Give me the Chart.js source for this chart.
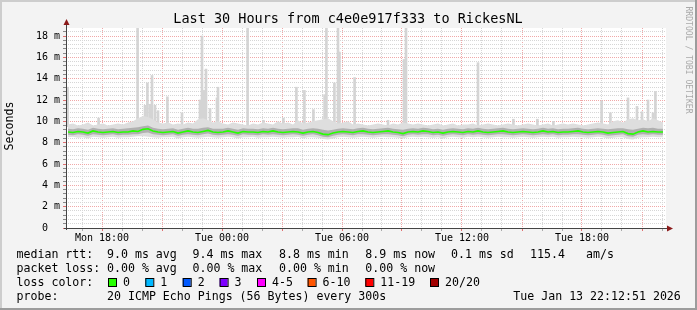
<!DOCTYPE html>
<html>
<head>
<meta charset="utf-8">
<title>Smokeping - RickesNL</title>
<script src="https://cdn.jsdelivr.net/npm/chart.js@4/dist/chart.umd.min.js"></script>
<style>
  html, body { margin: 0; padding: 0; background: #f3f3f3; }
  canvas { display: block; }
</style>
</head>
<body>
<canvas id="pingChart" width="697" height="310"></canvas>
<script>
// Data ---------------------------------------------------------------------->
// time axis: hours counted from Mon 00:00, one sample every 15 minutes
const startHour = 16.3;
const stepHours = 0.25;

// median rtt (ms)
const median = [
  9.0, 8.95, 9.05, 9.0, 8.9, 9.1, 9.0, 8.95, 9.0, 9.05,
  8.95, 9.0, 9.0, 9.1, 9.05, 9.25, 9.3, 9.1, 9.0, 8.95,
  9.0, 9.05, 8.9, 9.0, 9.1, 9.0, 8.95, 9.05, 9.15, 9.0,
  8.95, 9.0, 9.1, 9.0, 8.9, 9.05, 9.0, 9.0, 8.95, 9.05,
  9.0, 9.1, 9.0, 8.95, 9.0, 9.05, 9.0, 8.9, 9.0, 9.05,
  8.95, 8.8, 8.75, 8.9, 9.0, 9.05, 9.0, 8.95, 9.05, 9.1,
  9.0, 8.95, 9.0, 9.05, 9.1, 9.0, 8.95, 8.85, 9.0, 9.05,
  9.0, 9.1, 9.05, 8.95, 9.0, 8.9, 9.0, 9.05, 9.0, 8.95,
  9.05, 9.0, 9.1, 9.0, 8.95, 9.0, 9.05, 9.1, 9.0, 8.95,
  9.0, 9.05, 9.0, 8.95, 9.0, 9.1, 9.0, 9.05, 8.95, 9.0,
  9.0, 9.05, 9.1, 9.0, 8.95, 9.0, 9.05, 9.0, 8.9, 8.95,
  9.0, 9.05, 8.85, 8.8, 9.0, 9.1, 9.0, 9.05, 9.0, 9.0
];

// outer smoke (min / max of the 20 pings)
const smokeLo = [
  8.5, 8.55, 8.45, 8.5, 8.4, 8.55, 8.5, 8.45, 8.5, 8.55,
  8.45, 8.5, 8.5, 8.55, 8.6, 8.6, 8.55, 8.5, 8.45, 8.5,
  8.5, 8.55, 8.4, 8.5, 8.55, 8.5, 8.45, 8.5, 8.55, 8.5,
  8.45, 8.5, 8.55, 8.5, 8.4, 8.5, 8.5, 8.55, 8.45, 8.5,
  8.5, 8.55, 8.5, 8.45, 8.5, 8.5, 8.55, 8.4, 8.5, 8.5,
  8.45, 8.35, 8.3, 8.4, 8.5, 8.55, 8.5, 8.45, 8.5, 8.55,
  8.5, 8.45, 8.5, 8.55, 8.5, 8.5, 8.45, 8.4, 8.5, 8.55,
  8.5, 8.55, 8.5, 8.45, 8.5, 8.4, 8.5, 8.55, 8.5, 8.45,
  8.55, 8.5, 8.55, 8.5, 8.45, 8.5, 8.55, 8.5, 8.5, 8.45,
  8.5, 8.55, 8.5, 8.45, 8.5, 8.55, 8.5, 8.55, 8.45, 8.5,
  8.5, 8.55, 8.5, 8.5, 8.45, 8.5, 8.55, 8.5, 8.4, 8.45,
  8.5, 8.5, 8.35, 8.3, 8.45, 8.5, 8.5, 8.55, 8.5, 8.5
];
const smokeHi = [
  9.7, 9.8, 9.6, 9.7, 9.9, 9.6, 9.7, 9.8, 9.6, 9.7,
  9.8, 9.7, 9.9, 10.0, 10.3, 10.5, 10.4, 10.2, 9.9, 9.8,
  9.9, 9.7, 9.8, 9.7, 9.9, 9.8, 10.2, 10.3, 10.1, 9.9,
  10.0, 9.8, 9.7, 9.9, 9.8, 9.7, 9.6, 9.8, 9.7, 9.9,
  9.8, 9.7, 10.0, 9.8, 9.9, 9.7, 10.1, 9.8, 9.9, 10.0,
  10.1, 10.2, 10.3, 10.0, 9.8, 9.9, 10.0, 9.7, 9.8, 9.7,
  9.6, 9.7, 9.8, 9.7, 9.6, 9.8, 9.7, 9.9, 9.8, 9.7,
  9.8, 9.7, 9.6, 9.7, 9.8, 9.6, 9.7, 9.8, 9.6, 9.7,
  9.7, 9.8, 9.6, 9.7, 9.8, 9.7, 9.6, 9.7, 9.8, 9.7,
  9.6, 9.7, 9.8, 9.7, 9.6, 9.7, 9.8, 9.6, 9.7, 9.8,
  9.7, 9.8, 9.7, 9.6, 9.7, 9.8, 9.9, 9.8, 9.7, 10.0,
  10.1, 9.9, 10.2, 10.3, 10.1, 10.2, 10.0, 10.3, 10.1, 9.9
];

// inner (dense) smoke
const coreLo = [
  8.75, 8.7, 8.8, 8.75, 8.65, 8.8, 8.75, 8.7, 8.75, 8.8,
  8.7, 8.75, 8.75, 8.8, 8.8, 8.9, 8.95, 8.8, 8.75, 8.7,
  8.75, 8.8, 8.65, 8.75, 8.8, 8.75, 8.7, 8.8, 8.85, 8.75,
  8.7, 8.75, 8.8, 8.75, 8.65, 8.8, 8.75, 8.75, 8.7, 8.8,
  8.75, 8.8, 8.75, 8.7, 8.75, 8.8, 8.75, 8.65, 8.75, 8.8,
  8.7, 8.55, 8.5, 8.65, 8.75, 8.8, 8.75, 8.7, 8.8, 8.8,
  8.75, 8.7, 8.75, 8.8, 8.8, 8.75, 8.7, 8.6, 8.75, 8.8,
  8.75, 8.8, 8.8, 8.7, 8.75, 8.65, 8.75, 8.8, 8.75, 8.7,
  8.8, 8.75, 8.8, 8.75, 8.7, 8.75, 8.8, 8.8, 8.75, 8.7,
  8.75, 8.8, 8.75, 8.7, 8.75, 8.8, 8.75, 8.8, 8.7, 8.75,
  8.75, 8.8, 8.8, 8.75, 8.7, 8.75, 8.8, 8.75, 8.65, 8.7,
  8.75, 8.8, 8.6, 8.55, 8.75, 8.8, 8.75, 8.8, 8.75, 8.75
];
const coreHi = [
  9.3, 9.25, 9.35, 9.3, 9.2, 9.4, 9.3, 9.25, 9.3, 9.35,
  9.25, 9.3, 9.35, 9.4, 9.45, 9.55, 9.6, 9.4, 9.3, 9.25,
  9.3, 9.35, 9.2, 9.3, 9.4, 9.3, 9.3, 9.4, 9.45, 9.3,
  9.3, 9.3, 9.4, 9.3, 9.2, 9.35, 9.3, 9.3, 9.25, 9.35,
  9.3, 9.4, 9.3, 9.25, 9.3, 9.35, 9.35, 9.2, 9.3, 9.35,
  9.3, 9.2, 9.15, 9.2, 9.3, 9.35, 9.3, 9.25, 9.35, 9.4,
  9.3, 9.25, 9.3, 9.35, 9.4, 9.3, 9.25, 9.2, 9.3, 9.35,
  9.3, 9.4, 9.35, 9.25, 9.3, 9.2, 9.3, 9.35, 9.3, 9.25,
  9.35, 9.3, 9.4, 9.3, 9.25, 9.3, 9.35, 9.4, 9.3, 9.25,
  9.3, 9.35, 9.3, 9.25, 9.3, 9.4, 9.3, 9.35, 9.25, 9.3,
  9.3, 9.35, 9.4, 9.3, 9.25, 9.3, 9.35, 9.3, 9.25, 9.3,
  9.35, 9.35, 9.25, 9.2, 9.3, 9.4, 9.35, 9.4, 9.3, 9.3
];

// single slow pings sticking out of the smoke
const spikeHours = [16.28, 17.83, 19.78, 20.15, 20.27, 20.4, 20.5, 20.65, 20.8, 21.27,
  22.0, 22.9, 23.0, 23.1, 23.2, 23.4, 23.75, 23.8, 25.28, 26.07, 27.07, 27.72, 28.12,
  28.57, 29.13, 29.22, 29.62, 29.8, 29.87, 30.63, 32.3, 33.1, 33.2, 36.8, 38.57, 39.77,
  40.57, 42.98, 43.42, 44.3, 44.75, 45.0, 45.3, 45.55, 45.67];
const spikeTops = [13.2, 10.3, 18.75, 11.5, 13.6, 11.6, 14.3, 11.5, 11.0, 12.3,
  10.8, 12.0, 18.0, 12.9, 14.9, 11.2, 12.2, 13.2, 18.75, 10.1, 10.3, 13.2, 12.9,
  11.1, 12.5, 18.75, 13.6, 18.75, 16.5, 14.1, 10.1, 15.8, 18.75, 15.5, 10.2, 10.2,
  10.0, 11.9, 10.8, 12.2, 11.4, 10.9, 12.0, 10.8, 12.8];
const spikeBase = 9.5;

// axis labels
const xTickHours = [18, 24, 30, 36, 42];
const xTickLabels = ['Mon 18:00', 'Tue 00:00', 'Tue 06:00', 'Tue 12:00', 'Tue 18:00'];
const yTickValues = [0, 2, 4, 6, 8, 10, 12, 14, 16, 18];
const yTickLabels = ['0  ', '2 m', '4 m', '6 m', '8 m', '10 m', '12 m', '14 m', '16 m', '18 m'];

// legend
const statsRtt = ['9.0 ms avg', '9.4 ms max', '8.8 ms min', '8.9 ms now', '0.1 ms sd', '115.4', 'am/s'];
const statsLoss = ['0.00 % avg', '0.00 % max', '0.00 % min', '0.00 % now'];
const lossLabels = ['0', '1', '2', '3', '4-5', '6-10', '11-19', '20/20'];
const lossColors = ['#26ff00', '#00b8ff', '#0059ff', '#7e00ff', '#ff00ff', '#ff5500', '#ff0000', '#a10000'];
const probeText = '20 ICMP Echo Pings (56 Bytes) every 300s';
const stampText = 'Tue Jan 13 22:12:51 2026';
const titleText = 'Last 30 Hours from c4e0e917f333 to RickesNL';


// Chart ---------------------------------------------------------------------->
const MONO = '"DejaVu Sans Mono", monospace';
const times = median.map((_, i) => startHour + i * stepHours);
const toPoints = arr => arr.map((v, i) => ({ x: times[i], y: v }));

const isMajorY = v => Math.abs(v / 2 - Math.round(v / 2)) < 1e-6;
const isMajorX = v => Math.round(v) % 3 === 0;
const RED_GRID = '#f0a8a8';
const GRAY_GRID = '#d6d6d6';

// background, frame, axes, arrows and all the rrdtool style texts
const smokeDecor = {
    id: 'smokeDecor',
    beforeDraw(chart) {
        const { ctx, width, height, chartArea: a } = chart;
        ctx.save();
        ctx.fillStyle = '#f3f3f3';
        ctx.fillRect(0, 0, width, height);
        ctx.fillStyle = '#ffffff';
        ctx.fillRect(a.left, a.top, a.right - a.left, a.bottom - a.top);
        // 3d frame
        ctx.fillStyle = '#cdcdcd';
        ctx.fillRect(0, 0, width, 2);
        ctx.fillRect(0, 0, 2, height);
        ctx.fillStyle = '#9c9c9c';
        ctx.fillRect(0, height - 2, width, 2);
        ctx.fillRect(width - 2, 0, 2, height);
        ctx.restore();
    },
    afterDraw(chart) {
        const { ctx, chartArea: a } = chart;
        ctx.save();
        // axes
        ctx.strokeStyle = '#444';
        ctx.lineWidth = 1;
        ctx.beginPath();
        ctx.moveTo(a.left + 0.5, a.bottom + 2);
        ctx.lineTo(a.left + 0.5, a.top - 5);
        ctx.moveTo(a.left - 2, a.bottom + 0.5);
        ctx.lineTo(a.right + 2, a.bottom + 0.5);
        ctx.stroke();
        ctx.fillStyle = '#8b1a1a';
        ctx.beginPath();
        ctx.moveTo(a.left + 0.5, a.top - 9);
        ctx.lineTo(a.left - 2.5, a.top - 3);
        ctx.lineTo(a.left + 3.5, a.top - 3);
        ctx.closePath();
        ctx.fill();
        ctx.beginPath();
        ctx.moveTo(a.right + 7, a.bottom + 0.5);
        ctx.lineTo(a.right + 1, a.bottom - 2.5);
        ctx.lineTo(a.right + 1, a.bottom + 3.5);
        ctx.closePath();
        ctx.fill();

        ctx.textBaseline = 'middle';
        ctx.fillStyle = '#000';
        // title
        ctx.font = '13.5px ' + MONO;
        ctx.textAlign = 'center';
        ctx.fillText(titleText, 348, 19);

        // y axis title
        ctx.font = '11.6px ' + MONO;
        ctx.save();
        ctx.translate(10, 126);
        ctx.rotate(-Math.PI / 2);
        ctx.fillText('Seconds', 0, 0);
        ctx.restore();

        // watermark on the right edge
        ctx.save();
        ctx.fillStyle = '#a9a9a9';
        ctx.font = '8.1px ' + MONO;
        ctx.translate(688, 60);
        ctx.rotate(Math.PI / 2);
        ctx.fillText('RRDTOOL / TOBI OETIKER', 0, 0);
        ctx.restore();

        // legend block
        ctx.textAlign = 'left';
        ctx.font = '11.6px ' + MONO;
        const rttX = [107, 192.5, 279, 365.3, 451, 530, 586];
        ctx.fillText('median rtt:', 16.5, 254.5);
        statsRtt.forEach((s, i) => ctx.fillText(s, rttX[i], 254.5));
        ctx.fillText('packet loss:', 16.5, 268.5);
        statsLoss.forEach((s, i) => ctx.fillText(s, rttX[i], 268.5));
        ctx.fillText('loss color:', 16.5, 282.5);
        const boxX = [108, 145.3, 182.7, 219.6, 257, 307.6, 365.3, 430];
        lossLabels.forEach((s, i) => {
            ctx.fillStyle = lossColors[i];
            ctx.fillRect(boxX[i], 278, 8, 8);
            ctx.strokeStyle = '#000';
            ctx.strokeRect(boxX[i] + 0.5, 278.5, 8, 8);
            ctx.fillStyle = '#000';
            ctx.fillText(s, boxX[i] + 15, 282.5);
        });
        ctx.fillText('probe:', 16.5, 296.5);
        ctx.fillText(probeText, 107, 296.5);
        ctx.fillText(stampText, 513.3, 296.5);
        ctx.restore();
    }
};

const ctx = document.getElementById('pingChart').getContext('2d');
new Chart(ctx, {
    type: 'line',
    data: {
        datasets: [
            {
                type: 'bar',
                data: spikeHours.map((h, i) => ({ x: h, y: [spikeBase, spikeTops[i]] })),
                backgroundColor: '#d4d4d4',
                barThickness: 2,
                grouped: false,
                order: 10
            },
            {
                data: toPoints(smokeLo),
                borderWidth: 0,
                pointRadius: 0,
                fill: false,
                order: 9
            },
            {
                data: toPoints(smokeHi),
                borderWidth: 0,
                pointRadius: 0,
                backgroundColor: '#dedede',
                fill: 1,
                order: 8
            },
            {
                data: toPoints(coreLo),
                borderWidth: 0,
                pointRadius: 0,
                fill: false,
                order: 7
            },
            {
                data: toPoints(coreHi),
                borderWidth: 0,
                pointRadius: 0,
                backgroundColor: '#b0b0b0',
                fill: 3,
                order: 6
            },
            {
                data: toPoints(median),
                borderColor: lossColors[0],
                borderWidth: 1.6,
                pointRadius: 0,
                fill: false,
                order: 1
            }
        ]
    },
    options: {
        responsive: false,
        animation: false,
        devicePixelRatio: 1,
        layout: { padding: { top: 28, right: 31, left: 0, bottom: 0 } },
        plugins: {
            legend: { display: false },
            tooltip: { enabled: false },
            title: { display: false }
        },
        scales: {
            x: {
                type: 'linear',
                min: 16.2,
                max: 46.2,
                offset: false,
                afterFit: s => { s.height = 82; },
                afterBuildTicks: s => {
                    const t = [];
                    for (let h = 17; h <= 46; h++) t.push({ value: h });
                    s.ticks = t;
                },
                grid: {
                    offset: false,
                    color: c => isMajorX(c.tick.value) ? RED_GRID : GRAY_GRID,
                    tickColor: c => isMajorX(c.tick.value) ? '#e07070' : '#aaa',
                    tickLength: 3
                },
                border: { display: false, dash: [1, 1] },
                ticks: {
                    autoSkip: false,
                    maxRotation: 0,
                    padding: 1,
                    color: '#000',
                    font: { family: MONO, size: 10 },
                    callback: v => {
                        const i = xTickHours.indexOf(v);
                        return i >= 0 ? xTickLabels[i] : '';
                    }
                }
            },
            y: {
                min: 0,
                max: 18.75,
                afterFit: s => { s.width = 66; },
                afterBuildTicks: s => {
                    const t = [];
                    for (let k = 0; k <= 46; k++) t.push({ value: Math.round(k * 40) / 100 });
                    s.ticks = t;
                },
                grid: {
                    color: c => isMajorY(c.tick.value) ? RED_GRID : GRAY_GRID,
                    tickColor: c => isMajorY(c.tick.value) ? '#e07070' : '#888',
                    tickLength: 3
                },
                border: { display: false, dash: [1, 1] },
                ticks: {
                    autoSkip: false,
                    padding: 3,
                    color: '#000',
                    font: { family: MONO, size: 10 },
                    callback: v => {
                        const i = yTickValues.indexOf(Math.round(v * 100) / 100);
                        return i >= 0 ? yTickLabels[i] : '';
                    }
                }
            }
        }
    },
    plugins: [smokeDecor]
});
</script>
</body>
</html>
